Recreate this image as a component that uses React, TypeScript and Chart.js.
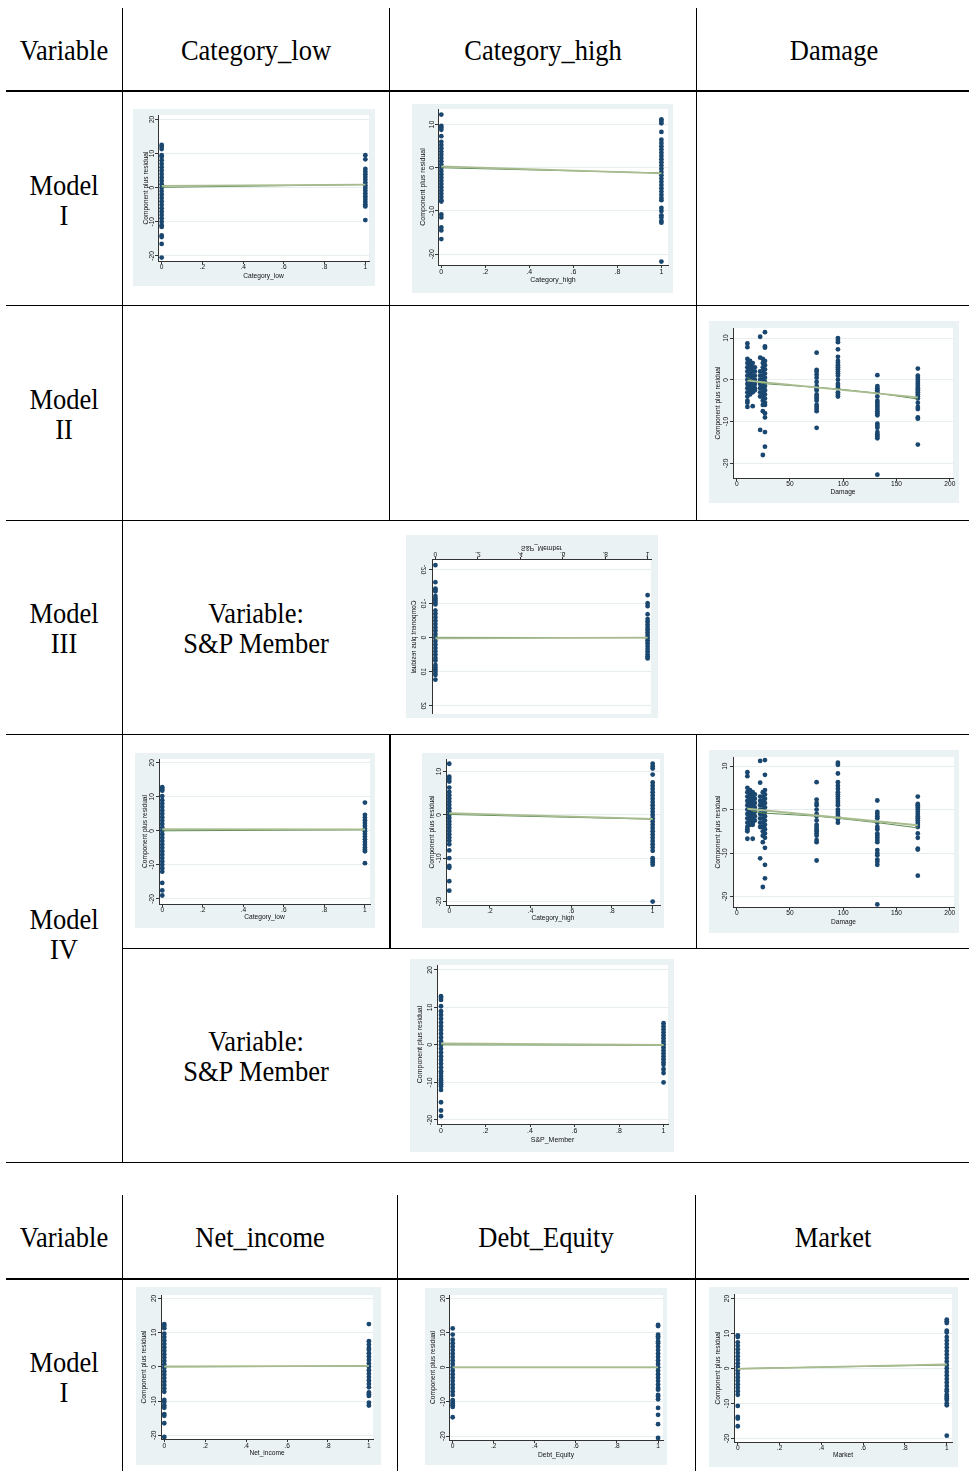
import React, { useEffect, useRef } from 'react';
import { Chart, registerables } from 'chart.js';
Chart.register(...registerables);

// ---------------- DATA ----------------
const binaryTicks = [0, 0.2, 0.4, 0.6, 0.8, 1];
const damageTicks = [0, 50, 100, 150, 200];
const yTicksFull = [-20, -10, 0, 10, 20];
const yTicksShort = [-20, -10, 0, 10];

// Model I - Category_low
const mI_low_x0 = [12.5, 12, 11.3, 9.5, 9, 8, 7, 6, 5, 4, 3, 2, 1, 0, -1, -2, -3, -4, -5, -6, -7, -8, -9, -10, -11, -11.5, -14, -14.5, -16.5, -20.5];
const mI_low_x1 = [9.5, 8.3, 5.5, 4.7, 3.9, 3.1, 2.3, 1.5, 0.7, -0.1, -0.9, -1.7, -2.5, -3.3, -4.1, -4.9, -5.5, -9.5];
const mI_low_fitA: [number, number][] = [[0, 0.5], [1, 0.9]];
const mI_low_fitB: [number, number][] = [[0, 0.1], [1, 0.9]];

// Model I - Category_high
const mI_high_x0 = [12.3, 9.7, 9.3, 8.8, 7.3, 6, 5.25, 4.5, 3.75, 3, 2.25, 1.5, 0.75, 0, -0.75, -1.5, -2.25, -3, -3.75, -4.5, -5.25, -6, -6.75, -7.5, -7.8, -10.8, -11.5, -13.8, -14.5, -16.5];
const mI_high_x1 = [11.2, 10.8, 10.3, 8.3, 6.5, 5.75, 5, 4.25, 3.5, 2.75, 2, 1.25, 0.5, -0.25, -1, -1.75, -2.5, -3.25, -4, -4.75, -5.5, -6.25, -7, -7.5, -9.3, -10, -11, -11.5, -12.3, -12.7, -21.7];
const mI_high_fitA: [number, number][] = [[0, 0.3], [1, -1.3]];
const mI_high_fitB: [number, number][] = [[0, 0.0], [1, -1.2]];

// Model II - Damage (x levels and residuals per level)
const damageLevels = [10, 12.5, 15, 17, 22, 24.5, 26.5, 75, 95, 132, 170];
const mII_dmg_10 = [8.7, 7.8, 5, 4, 3, 2, 1, 0, -1, -2, -3, -4, -5, -5.5, -6.5];
const mII_dmg_12 = [4.5, 3.5, 2.5, 1.5, 0.5, -0.5, -1.5, -2.5, -3.5];
const mII_dmg_15 = [4, 3, 2, 1, 0, -1, -2, -3, -6.3];
const mII_dmg_17 = [3, 2, 1, 0, -1, -2, -2.5];
const mII_dmg_22 = [10.3, 5.3, 2, 1, 0, -1, -2, -3, -4, -12];
const mII_dmg_24 = [5, 4, 3, 2, 1, 0, -1, -2, -3, -4, -5, -6, -7.5, -18];
const mII_dmg_26 = [11.4, 8, 7.7, 4.5, 3.5, 2.5, 1.5, 0.5, -0.5, -1.5, -2.5, -3.5, -4.5, -5.5, -6, -8, -9, -12.5, -16];
const mII_dmg_75 = [6.5, 2.4, 2, 1.3, 0.5, -0.5, -1.5, -2, -2.5, -3.5, -4, -4.5, -5, -6, -6.5, -7, -7.5, -11.5];
const mII_dmg_95 = [10, 9.5, 9, 7.3, 5.5, 4.5, 4, 3.5, 3, 2.5, 2, 1.5, 1, 0, -1, -1.5, -2, -3, -3.5, -4];
const mII_dmg_132 = [1.1, -1.5, -2, -2.5, -3, -4, -5, -5.5, -6, -6.5, -7, -7.5, -8, -8.5, -10.5, -11, -11.5, -12.5, -13, -13.5, -14, -22.7];
const mII_dmg_170 = [2.7, 1, 0.5, 0, -0.5, -1, -1.5, -2, -2.5, -3, -3.5, -4, -4.5, -5.5, -6.5, -7, -9, -9.3, -15.5];
const mII_dmg_fitA: [number, number][] = [[10, -0.2], [170, -4.2]];
const mII_dmg_fitB: [number, number][] = [[10, 0.5], [16, -0.3], [25, -0.9], [75, -1.8], [95, -2.2], [132, -3.2], [170, -4.6]];

// Model III - S&P_Member (printed flipped in the reference)
const mIII_sp_x0 = [-21.3, -16.3, -14.4, -14, -13.6, -12.2, -11.5, -11, -10.4, -9.8, -8, -7, -6, -5, -4, -3, -2, -1, 0, 1, 2, 3, 4, 5, 6, 6.7, 8, 8.7, 9.4, 10.1, 10.9, 12.3];
const mIII_sp_x1 = [-12.5, -10.1, -9.3, -6.9, -5.5, -4.7, -3.9, -3.1, -2.3, -1.5, -0.7, 0.1, 0.9, 1.7, 2.5, 3.3, 4.1, 4.9, 5.6, 6.1];
const mIII_sp_fitA: [number, number][] = [[0, 0.2], [1, 0.0]];
const mIII_sp_fitB: [number, number][] = [[0, -0.1], [1, 0.0]];

// Model IV - Category_low
const mIV_low_x0 = [12.8, 12.3, 11.8, 10.2, 9, 8, 7, 6, 5, 4, 3, 2, 1, 0, -1, -2, -3, -4, -5, -6, -7, -8, -9, -10, -11, -12, -15.3, -17.5, -19];
const mIV_low_x1 = [8.3, 4.7, 3.9, 3.1, 2.3, 1.5, 0.7, -0.1, -0.9, -1.7, -2.5, -3.3, -4.1, -4.9, -5.5, -6, -9.5];
const mIV_low_fitA: [number, number][] = [[0, 0.5], [1, 0.4]];
const mIV_low_fitB: [number, number][] = [[0, 0.0], [1, 0.3]];

// Model IV - Category_high
const mIV_high_x0 = [11.8, 8.8, 8.3, 7.7, 6.3, 5.3, 4.55, 3.8, 3.05, 2.3, 1.55, 0.8, 0.05, -0.7, -1.45, -2.2, -2.95, -3.7, -4.45, -5.2, -5.95, -6.8, -8.2, -10, -11.8, -12.2, -15.3, -17.5];
const mIV_high_x1 = [11.8, 11.2, 10.7, 9.3, 7.5, 6.75, 6, 5.25, 4.5, 3.75, 3, 2.25, 1.5, 0.75, 0, -0.75, -1.5, -2.25, -3, -3.75, -4.5, -5.25, -6, -6.75, -7.5, -8.3, -10, -10.5, -11, -11.5, -20];
const mIV_high_fitA: [number, number][] = [[0, 0.4], [1, -0.9]];
const mIV_high_fitB: [number, number][] = [[0, 0.1], [1, -1.0]];

// Model IV - Damage
const mIV_dmg_10 = [8.6, 7.7, 5, 4, 3, 2, 1, 0, -1, -2, -3, -4, -4.5, -5, -6.7];
const mIV_dmg_12 = [4.5, 3.5, 2.5, 1.5, 0.5, -0.5, -1.5, -2.5, -3.5];
const mIV_dmg_15 = [4, 3, 2, 1, 0, -1, -2, -3, -3.5, -6.7];
const mIV_dmg_17 = [3.5, 2.5, 1.5, 0.5, -0.5, -1.5, -2.5];
const mIV_dmg_22 = [11.2, 6.2, 3, 2, 1, 0, -1, -2, -3, -4, -11.2];
const mIV_dmg_24 = [4, 3, 2, 1, 0, -1, -2, -3, -4, -5, -6, -7.5, -17.8];
const mIV_dmg_26 = [11.4, 8, 4.5, 3.5, 2.5, 1.5, 0.5, -0.5, -1.5, -2.5, -3.5, -4.5, -5.5, -6.5, -8.8, -12.7, -15.8];
const mIV_dmg_75 = [6.3, 2.3, 1.5, 1, 0, -1, -1.5, -2.5, -3.5, -4, -4.5, -5, -5.5, -6, -7, -7.5, -11.7];
const mIV_dmg_95 = [10.8, 10.3, 8.3, 6.3, 5.5, 4.8, 4, 3.5, 3, 2.5, 2, 1.5, 1, 0, -0.5, -1, -1.5, -2.3, -3];
const mIV_dmg_132 = [2.1, -0.5, -1, -1.5, -2, -3, -4, -4.5, -5.5, -6, -6.5, -7, -7.5, -9.3, -10, -10.5, -11.5, -12, -12.7, -21.8];
const mIV_dmg_170 = [3, 1.3, 1, 0.5, 0, -0.5, -1, -1.5, -2, -2.5, -3, -3.5, -4, -5.5, -6.5, -9, -9.2, -15.2];
const mIV_dmg_fitA: [number, number][] = [[10, 0.2], [170, -3.6]];
const mIV_dmg_fitB: [number, number][] = [[10, 0.3], [16, -0.4], [25, -0.8], [75, -1.5], [95, -2.0], [132, -3.0], [170, -4.2]];

// Model IV - S&P_Member
const mIV_sp_x0 = [13, 12.5, 12, 10.3, 9, 8, 7, 6, 5, 4, 3, 2, 1, 0, -1, -2, -3, -4, -5, -6, -7, -7.5, -8.3, -9, -9.5, -10, -10.5, -11, -12, -15.3, -17.5, -19];
const mIV_sp_x1 = [5.8, 5, 4.2, 3.4, 2.6, 1.8, 1, 0.2, -0.6, -1.4, -2.2, -3, -3.8, -4.6, -5.3, -6.5, -7.5, -10];
const mIV_sp_fitA: [number, number][] = [[0, 0.4], [1, 0.0]];
const mIV_sp_fitB: [number, number][] = [[0, 0.0], [1, -0.1]];

// Table 2, Model I - Net_income
const ni_x0 = [12.5, 12, 11.3, 9.7, 8.7, 7.7, 6.7, 5.7, 4.7, 3.7, 2.7, 1.7, 0.7, -0.3, -1.3, -2.3, -3.3, -4.3, -5.3, -6.3, -7.3, -9.7, -10.3, -11.3, -12, -13.8, -14.3, -16.5, -20.5];
const ni_x1 = [12.5, 7.5, 6.5, 5.5, 5, 4, 3, 2, 1, 0, -1, -2, -3, -4, -5, -6, -7.5, -8, -8.5, -10.5, -11.3];
const ni_fitA: [number, number][] = [[0, 0.1], [1, 0.3]];
const ni_fitB: [number, number][] = [[0, 0.0], [1, 0.2]];

// Table 2, Model I - Debt_Equity
const de_x0 = [11.3, 9.5, 8, 7, 6, 5, 4, 3, 2, 1, 0, -1, -2, -3, -4, -5, -6, -7, -8, -9.5, -10, -10.5, -11, -11.5, -14.5];
const de_x1 = [12.3, 12, 9.5, 9, 8.5, 7.5, 7, 6, 5, 4, 3, 2, 1, 0, -1, -2, -3, -4, -5, -6, -6.5, -8, -8.5, -9.3, -11.8, -13.8, -16.5, -20.5];
const de_fitA: [number, number][] = [[0, 0.0], [1, 0.0]];
const de_fitB: [number, number][] = [[0, 0.0], [1, 0.0]];

// Table 2, Model I - Market
const mk_x0 = [9.5, 9, 7.5, 6.5, 5.5, 4.5, 3.5, 2.5, 1.5, 0.5, -0.5, -1.5, -2.5, -3.5, -4.5, -5.5, -6.5, -7.5, -10.7, -13.8, -14.3, -16.5];
const mk_x1 = [14, 13.5, 13, 10.8, 10.3, 9, 8, 7, 6, 5, 4, 3, 2, 1, 0, -1, -2, -3, -4, -5, -6, -6.5, -7.5, -8, -8.5, -9, -10, -10.5, -19.2];
const mk_fitA: [number, number][] = [[0, -0.1], [1, 1.2]];
const mk_fitB: [number, number][] = [[0, 0.0], [1, 1.0]];

// ---------------- STYLE ----------------
const BG = '#eaf2f3';
const NAVY = '#1a476f';
const LINE_A = '#a9bc90';
const LINE_B = '#5e8c55';
const AXIS = '#333333';
const GRID = '#e6eef0';
const SANS = '"Liberation Sans", Arial, sans-serif';
const SERIF = '"Liberation Serif", "Times New Roman", serif';

type Pt = { x: number; y: number };
interface Spec {
  box: [number, number, number, number];
  pad: [number, number, number, number];
  xr: [number, number];
  yr: [number, number];
  xt: number[];
  yt: number[];
  xTitle: string;
  pts: Pt[];
  fitA: [number, number][];
  fitB: [number, number][];
  fs: number;
  yTitleX: number;
  xTitleB: number;
  xLabGap: number;
  yLabGap: number;
  flip?: boolean;
}

const binPts = (a0: number[], a1: number[]): Pt[] => [
  ...a0.map((y) => ({ x: 0, y })),
  ...a1.map((y) => ({ x: 1, y })),
];
const levelPts = (levels: number[], cols: number[][]): Pt[] =>
  cols.flatMap((ys, i) => ys.map((y) => ({ x: levels[i], y })));

const fmtTick = (v: number) => {
  const s = String(v);
  if (s.startsWith('0.')) return s.slice(1);
  if (s.startsWith('-0.')) return '-' + s.slice(2);
  return s;
};

const bgPlugin = {
  id: 'stataBg',
  beforeDraw(chart: any) {
    const { ctx, width, height, chartArea } = chart;
    ctx.save();
    ctx.fillStyle = BG;
    ctx.fillRect(0, 0, width, height);
    ctx.fillStyle = '#ffffff';
    ctx.fillRect(chartArea.left, chartArea.top, chartArea.right - chartArea.left, chartArea.bottom - chartArea.top);
    ctx.restore();
  },
};

function CprPlot({ s }: { s: Spec }) {
  const ref = useRef<HTMLCanvasElement | null>(null);
  useEffect(() => {
    if (!ref.current) return;
    const [pl, pt, pr, pb] = s.pad;
    const lh = s.fs * 1.2;
    const chart = new Chart(ref.current, {
      type: 'scatter',
      data: {
        datasets: [
          {
            data: s.fitA.map(([x, y]) => ({ x, y })),
            showLine: true,
            borderColor: LINE_A,
            borderWidth: 1.8,
            pointRadius: 0,
            fill: false,
          } as any,
          {
            data: s.fitB.map(([x, y]) => ({ x, y })),
            showLine: true,
            borderColor: LINE_B,
            borderWidth: 1,
            pointRadius: 0,
            fill: false,
          } as any,
          {
            data: s.pts,
            pointRadius: 2.4,
            pointBackgroundColor: NAVY,
            pointBorderWidth: 0,
            backgroundColor: NAVY,
            borderColor: NAVY,
          } as any,
        ],
      },
      options: {
        animation: false,
        responsive: false,
        devicePixelRatio: 1,
        events: [],
        layout: { padding: { left: 0, top: pt, right: pr, bottom: 0 } },
        plugins: { legend: { display: false }, tooltip: { enabled: false } },
        scales: {
          x: {
            type: 'linear',
            min: s.xr[0],
            max: s.xr[1],
            afterBuildTicks: (sc: any) => {
              sc.ticks = s.xt.map((v) => ({ value: v }));
            },
            afterFit: (sc: any) => {
              sc.height = pb;
              sc.paddingLeft = 0;
              sc.paddingRight = 0;
            },
            ticks: {
              autoSkip: false,
              minRotation: 0,
              maxRotation: 0,
              padding: s.xLabGap - 3 - lh / 2,
              color: '#111',
              font: { family: SANS, size: s.fs },
              callback: (v: any) => fmtTick(Number(v)),
            },
            grid: { drawOnChartArea: false, drawTicks: true, tickLength: 3, tickColor: AXIS },
            border: { display: true, color: AXIS, width: 1 },
            title: {
              display: true,
              text: s.xTitle,
              color: '#111',
              font: { family: SANS, size: s.fs },
              padding: { top: 0, bottom: s.xTitleB - lh / 2 },
            },
          },
          y: {
            type: 'linear',
            min: s.yr[0],
            max: s.yr[1],
            afterBuildTicks: (sc: any) => {
              sc.ticks = s.yt.map((v) => ({ value: v }));
            },
            afterFit: (sc: any) => {
              sc.width = pl;
              sc.paddingTop = 0;
              sc.paddingBottom = 0;
            },
            ticks: {
              autoSkip: false,
              minRotation: 90,
              maxRotation: 90,
              crossAlign: 'center',
              padding: s.yLabGap - 3 - s.fs * 0.72,
              color: '#111',
              font: { family: SANS, size: s.fs },
              callback: (v: any) => fmtTick(Number(v)),
            },
            grid: { color: GRID, lineWidth: 1, drawTicks: true, tickLength: 3, tickColor: AXIS },
            border: { display: true, color: AXIS, width: 1 },
            title: {
              display: true,
              text: 'Component plus residual',
              color: '#111',
              font: { family: SANS, size: s.fs },
              padding: { top: s.yTitleX - lh / 2, bottom: 0 },
            },
          },
        },
      } as any,
      plugins: [bgPlugin as any],
    });
    return () => chart.destroy();
  }, [s]);
  const [l, t, w, h] = s.box;
  return (
    <canvas
      ref={ref}
      width={w}
      height={h}
      style={{
        position: 'absolute',
        left: l,
        top: t,
        width: w,
        height: h,
        transform: s.flip ? 'scaleY(-1)' : undefined,
      }}
    />
  );
}

const specs: Spec[] = [
  {
    box: [133, 109, 242, 177], pad: [25, 6, 6, 25], xr: [-0.018, 1.018], yr: [-21.5, 21.3],
    xt: binaryTicks, yt: yTicksFull, xTitle: 'Category_low', pts: binPts(mI_low_x0, mI_low_x1),
    fitA: mI_low_fitA, fitB: mI_low_fitB, fs: 6.6, yTitleX: 13.5, xTitleB: 9.5, xLabGap: 6.6, yLabGap: 6,
  },
  {
    box: [412, 104, 261, 189], pad: [26, 5, 5, 28], xr: [-0.015, 1.03], yr: [-22.5, 13.6],
    xt: binaryTicks, yt: yTicksShort, xTitle: 'Category_high', pts: binPts(mI_high_x0, mI_high_x1),
    fitA: mI_high_fitA, fitB: mI_high_fitB, fs: 7, yTitleX: 11, xTitleB: 12.5, xLabGap: 7, yLabGap: 6,
  },
  {
    box: [709, 321, 250, 182], pad: [24, 7, 6, 25], xr: [-3.5, 203], yr: [-23.5, 12.4],
    xt: damageTicks, yt: yTicksShort, xTitle: 'Damage',
    pts: levelPts(damageLevels, [mII_dmg_10, mII_dmg_12, mII_dmg_15, mII_dmg_17, mII_dmg_22, mII_dmg_24, mII_dmg_26, mII_dmg_75, mII_dmg_95, mII_dmg_132, mII_dmg_170]),
    fitA: mII_dmg_fitA, fitB: mII_dmg_fitB, fs: 6.6, yTitleX: 9.5, xTitleB: 11, xLabGap: 6, yLabGap: 7,
  },
  {
    box: [406, 535, 252, 183], pad: [26, 1.5, 7, 25], xr: [-0.016, 1.016], yr: [-22.8, 22.4],
    xt: binaryTicks, yt: yTicksFull, xTitle: 'S&P_Member', pts: binPts(mIII_sp_x0, mIII_sp_x1),
    fitA: mIII_sp_fitA, fitB: mIII_sp_fitB, fs: 6.6, yTitleX: 8.5, xTitleB: 13, xLabGap: 5.8, yLabGap: 7.5, flip: true,
  },
  {
    box: [135, 753, 240, 175], pad: [24, 6, 5, 24], xr: [-0.016, 1.025], yr: [-21.5, 21.1],
    xt: binaryTicks, yt: yTicksFull, xTitle: 'Category_low', pts: binPts(mIV_low_x0, mIV_low_x1),
    fitA: mIV_low_fitA, fitB: mIV_low_fitB, fs: 6.6, yTitleX: 10.5, xTitleB: 11, xLabGap: 6.3, yLabGap: 7,
  },
  {
    box: [422, 753, 242, 175], pad: [24, 6, 4, 23], xr: [-0.016, 1.036], yr: [-20.8, 12.9],
    xt: binaryTicks, yt: yTicksShort, xTitle: 'Category_high', pts: binPts(mIV_high_x0, mIV_high_x1),
    fitA: mIV_high_fitA, fitB: mIV_high_fitB, fs: 6.6, yTitleX: 10, xTitleB: 9.7, xLabGap: 6.6, yLabGap: 7,
  },
  {
    box: [709, 750, 250, 183], pad: [24, 7, 5, 26], xr: [-3.5, 204], yr: [-22.4, 12.1],
    xt: damageTicks, yt: yTicksShort, xTitle: 'Damage',
    pts: levelPts(damageLevels, [mIV_dmg_10, mIV_dmg_12, mIV_dmg_15, mIV_dmg_17, mIV_dmg_22, mIV_dmg_24, mIV_dmg_26, mIV_dmg_75, mIV_dmg_95, mIV_dmg_132, mIV_dmg_170]),
    fitA: mIV_dmg_fitA, fitB: mIV_dmg_fitB, fs: 6.6, yTitleX: 9.5, xTitleB: 11, xLabGap: 6.6, yLabGap: 7.5,
  },
  {
    box: [410, 959, 264, 193], pad: [27, 6, 6, 28], xr: [-0.018, 1.02], yr: [-21.1, 21.3],
    xt: binaryTicks, yt: yTicksFull, xTitle: 'S&P_Member', pts: binPts(mIV_sp_x0, mIV_sp_x1),
    fitA: mIV_sp_fitA, fitB: mIV_sp_fitB, fs: 7, yTitleX: 10, xTitleB: 12, xLabGap: 7.5, yLabGap: 7,
  },
  {
    box: [136, 1287, 245, 178], pad: [25, 8, 8, 26], xr: [-0.016, 1.02], yr: [-21.1, 21],
    xt: binaryTicks, yt: yTicksFull, xTitle: 'Net_income', pts: binPts(ni_x0, ni_x1),
    fitA: ni_fitA, fitB: ni_fitB, fs: 6.6, yTitleX: 8, xTitleB: 11.5, xLabGap: 7, yLabGap: 7,
  },
  {
    box: [425, 1288, 242, 177], pad: [24, 7, 3, 25], xr: [-0.018, 1.024], yr: [-21.1, 21],
    xt: binaryTicks, yt: yTicksFull, xTitle: 'Debt_Equity', pts: binPts(de_x0, de_x1),
    fitA: de_fitA, fitB: de_fitB, fs: 6.6, yTitleX: 8, xTitleB: 10, xLabGap: 6.6, yLabGap: 6,
  },
  {
    box: [709, 1287, 249, 180], pad: [25, 7, 6, 25], xr: [-0.018, 1.025], yr: [-21, 21.3],
    xt: binaryTicks, yt: yTicksFull, xTitle: 'Market', pts: binPts(mk_x0, mk_x1),
    fitA: mk_fitA, fitB: mk_fitB, fs: 6.6, yTitleX: 8.7, xTitleB: 12, xLabGap: 5.8, yLabGap: 6.5,
  },
];

// ---------------- TABLE ----------------
function Txt({ x, y, text }: { x: number; y: number; text: string }) {
  return (
    <div
      style={{
        position: 'absolute',
        left: x,
        top: y,
        transform: 'translate(-50%, -50%) scaleY(1.12)',
        font: `26.5px ${SERIF}`,
        lineHeight: '30px',
        whiteSpace: 'nowrap',
        color: '#000',
      }}
    >
      {text}
    </div>
  );
}
function HL({ x1, x2, y, t = 1 }: { x1: number; x2: number; y: number; t?: number }) {
  return <div style={{ position: 'absolute', left: x1, top: y, width: x2 - x1, height: t, background: '#000' }} />;
}
function VL({ x, y1, y2, t = 1 }: { x: number; y1: number; y2: number; t?: number }) {
  return <div style={{ position: 'absolute', left: x, top: y1, width: t, height: y2 - y1, background: '#000' }} />;
}

const texts: [number, number, string][] = [
  [64, 50, 'Variable'], [256, 50, 'Category_low'], [543, 50, 'Category_high'], [834, 50, 'Damage'],
  [64, 185, 'Model'], [64, 215, 'I'],
  [64, 399, 'Model'], [64, 429, 'II'],
  [64, 613, 'Model'], [64, 643, 'III'],
  [256, 613, 'Variable:'], [256, 643, 'S&P Member'],
  [64, 919, 'Model'], [64, 949, 'IV'],
  [256, 1041, 'Variable:'], [256, 1071, 'S&P Member'],
  [64, 1237, 'Variable'], [260, 1237, 'Net_income'], [546, 1237, 'Debt_Equity'], [833, 1237, 'Market'],
  [64, 1362, 'Model'], [64, 1392, 'I'],
];

export default function App() {
  return (
    <div style={{ position: 'absolute', left: 0, top: 0, width: 969, height: 1471, overflow: 'hidden', background: '#fff' }}>
      <VL x={122} y1={8} y2={1162} />
      <VL x={389} y1={8} y2={520} />
      <VL x={696} y1={8} y2={520} />
      <VL x={389} y1={734} y2={948} t={2} />
      <VL x={696} y1={734} y2={948} />
      <HL x1={6} x2={969} y={90} t={2} />
      <HL x1={6} x2={969} y={305} />
      <HL x1={6} x2={969} y={520} />
      <HL x1={6} x2={969} y={734} />
      <HL x1={122} x2={969} y={948} />
      <HL x1={6} x2={969} y={1162} />
      <VL x={122} y1={1195} y2={1471} />
      <VL x={397} y1={1195} y2={1471} />
      <VL x={695} y1={1195} y2={1471} />
      <HL x1={6} x2={969} y={1278} t={2} />
      {texts.map(([x, y, t], i) => (
        <Txt key={i} x={x} y={y} text={t} />
      ))}
      {specs.map((s, i) => (
        <CprPlot key={i} s={s} />
      ))}
    </div>
  );
}
